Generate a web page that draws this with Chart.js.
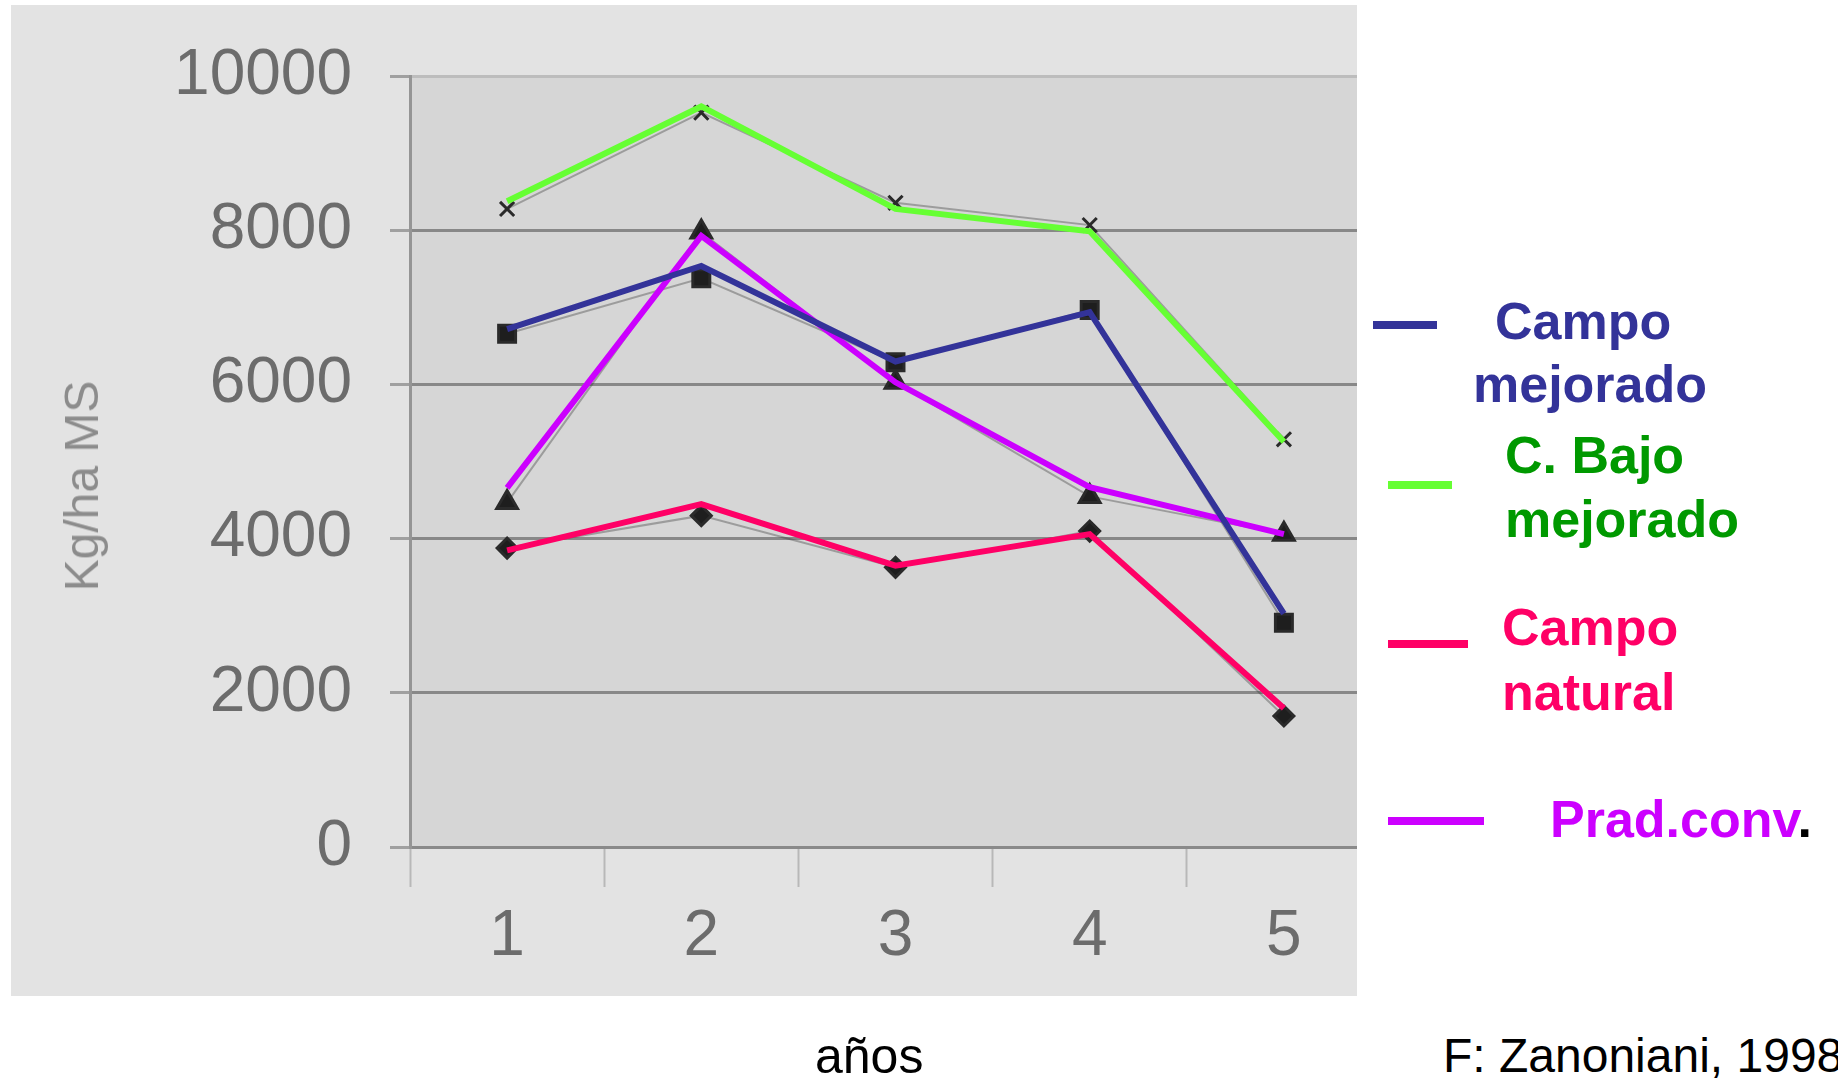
<!DOCTYPE html>
<html>
<head>
<meta charset="utf-8">
<script src="https://cdn.jsdelivr.net/npm/chart.js"></script>
<style>
  body {
    margin: 0;
    width: 1838px;
    height: 1080px;
    background: #fff;
    position: relative;
    overflow: hidden;
    font-family: "Liberation Sans", Arial, sans-serif;
  }
  #scan { position: absolute; left: 11px; top: 5px; width: 1346px; height: 991px; background: #e3e3e3; }
  #wrap { position: absolute; left: 0; top: 0; width: 1357px; height: 996px; overflow: hidden; }
  .t { position: absolute; line-height: 1; white-space: nowrap; }
  .lb { font-weight: bold; font-size: 52px; }
  .leg { position: absolute; height: 8px; }
</style>
</head>
<body>
<div id="scan"></div>
<div id="wrap"><canvas id="chart" width="1396" height="996"></canvas></div>

<div class="t" style="left:82px;top:486px;font-size:48px;color:#8c8c8c;transform:translate(-50%,-50%) rotate(-90deg);">Kg/ha MS</div>

<!-- legend on the right -->
<div class="leg" style="left:1373px;top:321px;width:64px;background:#333399;"></div>
<div class="t lb" style="left:1495px;top:295px;color:#333399;">Campo</div>
<div class="t lb" style="left:1473px;top:358px;color:#333399;">mejorado</div>

<div class="leg" style="left:1388px;top:481px;width:64px;background:#66ff33;"></div>
<div class="t lb" style="left:1505px;top:429px;color:#009900;">C. Bajo</div>
<div class="t lb" style="left:1505px;top:493px;color:#009900;">mejorado</div>

<div class="leg" style="left:1388px;top:640px;width:80px;background:#ff0066;"></div>
<div class="t lb" style="left:1502px;top:601px;color:#ff0066;">Campo</div>
<div class="t lb" style="left:1502px;top:666px;color:#ff0066;">natural</div>

<div class="leg" style="left:1388px;top:817px;width:96px;background:#cc00ff;"></div>
<div class="t lb" style="left:1550px;top:793px;color:#cc00ff;">Prad.conv<span style="color:#000;">.</span></div>

<div class="t" style="left:815px;top:1031px;font-size:50px;color:#000;">años</div>
<div class="t" style="left:1443px;top:1032px;font-size:48px;color:#000;">F: Zanoniani, 1998</div>

<script>
const years = ["1", "2", "3", "4", "5"];

// colored lines drawn over the scan
const campoMejorado = [6720, 7540, 6300, 6940, 3030];
const cBajoMejorado = [8380, 9610, 8280, 7990, 5260];
const campoNatural = [3850, 4450, 3650, 4060, 1800];
const pradConv = [4660, 7930, 6030, 4670, 4060];

// black markers of the original scanned chart
const marcaCuadrado = [6660, 7380, 6290, 6970, 2910];
const marcaCruz = [8280, 9530, 8360, 8070, 5290];
const marcaTriangulo = [4470, 7980, 6030, 4550, 4060];
const marcaRombo = [3880, 4300, 3630, 4100, 1700];

const yTicks = [0, 2000, 4000, 6000, 8000, 10000];

// gray plot area like the scanned excel chart
const plotBackground = {
  id: "plotBackground",
  beforeDraw(chart) {
    const { ctx, chartArea } = chart;
    ctx.save();
    ctx.fillStyle = "#d6d6d6";
    ctx.fillRect(chartArea.left, chartArea.top, chartArea.right - chartArea.left, chartArea.bottom - chartArea.top);
    ctx.restore();
  },
};

function lineSet(data, color) {
  return {
    data: data,
    borderColor: color,
    borderWidth: 6,
    pointRadius: 0,
    tension: 0,
    order: 0,
  };
}

function markerSet(data, style, radius) {
  return {
    data: data,
    borderColor: "rgba(50, 50, 50, 0.35)",
    borderWidth: 2,
    pointStyle: style,
    pointRadius: radius,
    pointBackgroundColor: "#1e1e1e",
    pointBorderColor: "#2a2a2a",
    pointBorderWidth: 3,
    tension: 0,
    order: 1,
  };
}

const ctx = document.getElementById("chart").getContext("2d");
const chart = new Chart(ctx, {
  type: "line",
  data: {
    labels: years,
    datasets: [
      markerSet(marcaCuadrado, "rect", 12),
      markerSet(marcaCruz, "crossRot", 10),
      markerSet(marcaTriangulo, "triangle", 12),
      markerSet(marcaRombo, "rectRot", 10),
      lineSet(campoMejorado, "#333399"),
      lineSet(cBajoMejorado, "#66ff33"),
      lineSet(campoNatural, "#ff0066"),
      lineSet(pradConv, "#cc00ff"),
    ],
  },
  options: {
    responsive: false,
    animation: false,
    layout: { padding: { top: 72, right: 0, bottom: 0, left: 0 } },
    plugins: {
      legend: { display: false },
      tooltip: { enabled: false },
    },
    scales: {
      x: {
        type: "category",
        offset: true,
        afterFit: (scale) => { scale.height = 149; },
        grid: {
          offset: true,
          drawOnChartArea: false,
          tickLength: 40,
          tickColor: "#b8b8b8",
          tickWidth: 2,
        },
        border: { color: "#8a8a8a", width: 3 },
        ticks: {
          padding: 12,
          color: "#6c6c6c",
          font: { family: "Liberation Sans", size: 64 },
        },
      },
      y: {
        min: 0,
        max: 10000,
        afterFit: (scale) => { scale.width = 410; },
        afterBuildTicks: (scale) => { scale.ticks = yTicks.map((v) => ({ value: v })); },
        grid: {
          color: (c) => (c.tick && c.tick.value === 10000 ? "#bdbdbd" : "#888888"),
          lineWidth: 3,
          tickLength: 20,
          tickColor: "#a0a0a0",
        },
        border: { color: "#959595", width: 3 },
        ticks: {
          padding: 38,
          color: "#6c6c6c",
          font: { family: "Liberation Sans", size: 64 },
          callback: (v) => String(v),
        },
      },
    },
  },
  plugins: [plotBackground],
});
</script>
</body>
</html>
